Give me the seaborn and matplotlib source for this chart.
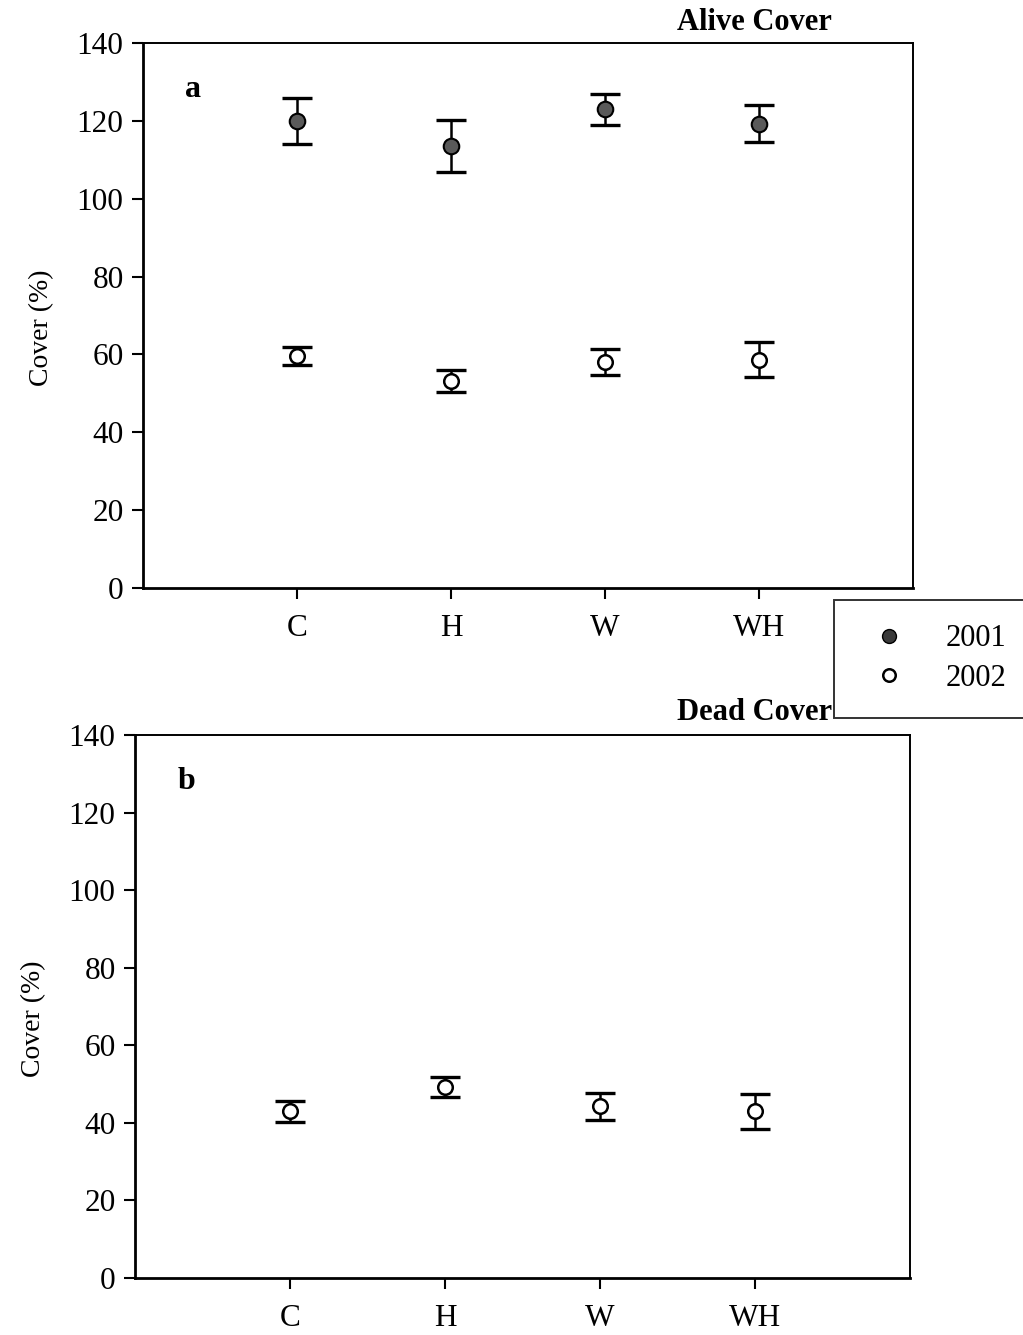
import matplotlib
matplotlib.use("Agg")
import matplotlib.pyplot as plt
import seaborn as sns
import pandas as pd
from matplotlib.lines import Line2D

categories = ["C", "H", "W", "WH"]
alive_2001 = [120.0, 113.5, 123.0, 119.3]
alive_2001_err = [6.0, 6.7, 4.0, 4.7]
alive_2002 = [59.6, 53.1, 58.0, 58.6]
alive_2002_err = [2.4, 2.8, 3.4, 4.5]
dead_2002 = [43.0, 49.3, 44.3, 43.0]
dead_2002_err = [2.7, 2.6, 3.5, 4.5]
yticks = [0, 20, 40, 60, 80, 100, 120, 140]

sns.set_theme(style="white")
plt.rcParams["font.family"] = ["Liberation Serif", "DejaVu Serif"]
plt.rcParams["text.color"] = "black"
plt.rcParams["axes.labelcolor"] = "black"

fig = plt.figure(figsize=(10.23, 13.35), dpi=100)
ax1 = fig.add_axes([143/1023, 1-588/1335, 770/1023, 545/1335])
ax2 = fig.add_axes([135/1023, 1-1278/1335, 775/1023, 543/1335])

filled = dict(color="#5a5a5a", edgecolor="black", linewidth=1.5, s=125, zorder=3)
hollow = dict(color="white", edgecolor="black", linewidth=1.8, s=110, zorder=3)

def draw(ax, vals, errs, style):
    df = pd.DataFrame({"cat": categories, "val": vals})
    ax.errorbar(categories, vals, yerr=errs, fmt="none", ecolor="black",
                elinewidth=1.8, capsize=11, capthick=2.4, zorder=2)
    sns.scatterplot(data=df, x="cat", y="val", ax=ax, legend=False, **style)

draw(ax1, alive_2001, alive_2001_err, filled)
draw(ax1, alive_2002, alive_2002_err, hollow)
draw(ax2, dead_2002, dead_2002_err, hollow)

for ax, label, title in [(ax1, "a", "Alive Cover"), (ax2, "b", "Dead Cover")]:
    ax.set_xlim(-1, 4)
    ax.set_ylim(0, 140)
    ax.set_yticks(yticks)
    ax.set_xlabel("")
    ax.set_ylabel("Cover (%)", fontsize=20, labelpad=16, y=0.477)
    ax.tick_params(axis="y", direction="out", length=8, width=1.5, pad=6,
                   labelsize=22.5, left=True, colors="black")
    ax.tick_params(axis="x", direction="out", length=8, width=1.5, pad=11,
                   labelsize=22.5, bottom=True, colors="black")
    for s in ax.spines.values():
        s.set_color("black")
        s.set_linewidth(1.4)
    ax.spines["left"].set_linewidth(2)
    ax.spines["bottom"].set_linewidth(2)
    ax.grid(False)
    ax.text(0.055, 0.915, label, transform=ax.transAxes, fontsize=23,
            fontweight="bold", ha="left", va="center")

fig.text(832/1023, 1-22/1335, "Alive Cover", fontsize=22, fontweight="bold",
         ha="right", va="center")
fig.text(832/1023, 1-713/1335, "Dead Cover", fontsize=22, fontweight="bold",
         ha="right", va="center")

handles = [
    Line2D([], [], marker="o", linestyle="none", markerfacecolor="#3a3a3a",
           markeredgecolor="black", markersize=10),
    Line2D([], [], marker="o", linestyle="none", markerfacecolor="white",
           markeredgecolor="black", markeredgewidth=1.8, markersize=9),
]
leg = fig.legend(handles, ["2001", "2002"], loc="upper left",
                 bbox_to_anchor=(834/1023, 1-600/1335),
                 fontsize=22, frameon=True, fancybox=False,
                 borderpad=0.8, handlelength=2.0, handletextpad=0.86,
                 labelspacing=0.35, borderaxespad=0)
leg.get_frame().set_edgecolor("black")
leg.get_frame().set_linewidth(1.4)

fig.savefig("out.png", dpi=100, facecolor="white")
